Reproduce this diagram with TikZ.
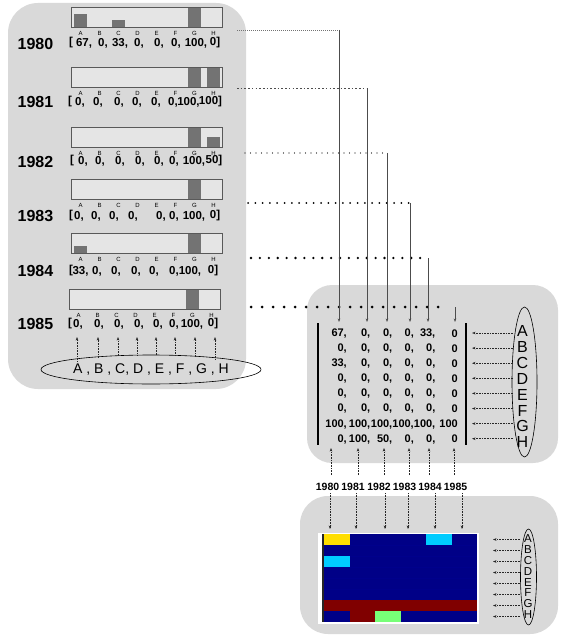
\documentclass[tikz,border=0pt]{standalone}
\usepackage{fontspec}
\setmainfont{Liberation Sans}
\usetikzlibrary{shapes.geometric,arrows.meta}
\definecolor{panel}{gray}{0.85}
\definecolor{boxfill}{gray}{0.9}
\definecolor{barcol}{gray}{0.45}
\definecolor{jdblue}{rgb}{0,0,0.53}
\definecolor{jyellow}{rgb}{1,0.87,0}
\definecolor{jcyan}{rgb}{0,0.8,1}
\definecolor{jgreen}{rgb}{0.47,1,0.47}
\definecolor{jred}{rgb}{0.5,0,0}
\tikzset{
  panelbox/.style={fill=panel, draw=none},
  chartbox/.style={fill=boxfill, draw=none, inner sep=0pt, minimum width=151pt, minimum height=20pt, anchor=north west},
  chartframe/.style={draw=black!65, line width=0.8pt},
  letlab/.style={font=\fontsize{6}{6}\selectfont, inner sep=0pt},
  val/.style={font=\bfseries\fontsize{11.5}{12}\selectfont, inner sep=0pt},
  mval/.style={font=\bfseries\fontsize{11}{12}\selectfont, inner sep=0pt, anchor=east},
  yearlab/.style={font=\bfseries\fontsize{16}{18}\selectfont, inner sep=0pt},
  smallyear/.style={font=\bfseries\fontsize{10.5}{12}\selectfont, inner sep=0pt},
  tipS/.style={-{Stealth[length=3.5pt,width=2.6pt]}},
  dotarrow/.style={tipS, draw=black!85, line width=0.6pt, dash pattern=on 0.7pt off 0.9pt},
  vl/.style={tipS, draw=black!70, line width=0.8pt},
  hla/.style={draw=black!55, line width=0.6pt, dash pattern=on 0.6pt off 1.4pt},
  hlb/.style={draw=black!70, line width=1pt, dash pattern=on 1.6pt off 2.1pt},
  hlc/.style={draw=black, line width=1.4pt, line cap=round, dash pattern=on 0pt off 5.5pt},
  hld/.style={draw=black, line width=2pt, line cap=round, dash pattern=on 0pt off 7.3pt},
  hle/.style={draw=black, line width=2.6pt, line cap=round, dash pattern=on 0pt off 8.9pt},
  hlf/.style={draw=black, line width=3pt, line cap=round, dash pattern=on 0pt off 11pt},
  ellA/.style={draw, ellipse, line width=0.6pt, inner sep=0pt},
  rowline/.style={draw=blue!55!black, line width=0.4pt},
}
\begin{document}
\begin{tikzpicture}[x=1pt,y=-1pt]
\useasboundingbox (0,0) rectangle (561,636);
% panels
\fill[panelbox, rounded corners=30pt] (8,3) rectangle (246,389);
\fill[panelbox, rounded corners=25pt] (307,285) rectangle (558,463);
\fill[panelbox, rounded corners=28pt] (300,496) rectangle (558,634);

% bar charts
\foreach \yt/\s/\vals [count=\r] in {7/0/{67,0,33,0,0,0,100,0}, 67/0/{0,0,0,0,0,0,100,100}, 127/0/{0,0,0,0,0,0,100,50}, 179/0/{0,0,0,0,0,0,100,0}, 233/0/{33,0,0,0,0,0,100,0}, 289/-2/{0,0,0,0,0,0,100,0}} {
  \node[chartbox] (box\r) at ({71+\s},\yt) {};
  \foreach \v [count=\i from 0] in \vals {
    \fill[barcol] ({74+19*\i+\s},{\yt+20-0.2*\v}) rectangle ({87+19*\i+\s},{\yt+20});
  }
  \draw[chartframe] (box\r.north west) rectangle (box\r.south east);
  \foreach \L [count=\i from 0] in {A,B,C,D,E,F,G,H} {
    \node[letlab] (lt\r\L) at ({80.5+19*\i+\s},{\yt+26}) {\L};
  }
}

% year labels
\node[yearlab] (yr1980) at (35.5,44) {1980};
\node[yearlab] (yr1981) at (35.5,102) {1981};
\node[yearlab] (yr1982) at (35.5,162) {1982};
\node[yearlab] (yr1983) at (35.5,216) {1983};
\node[yearlab] (yr1984) at (35.5,271) {1984};
\node[yearlab] (yr1985) at (35.5,324) {1985};

% value rows
\foreach \x/\t [count=\j] in {71/{[}, 84/{67,}, 103/{0,}, 120/{33,}, 139/{0,}, 159/{0,}, 176/{0,}, 196/{100,}, 215/{0]}}
  \node[val] (va\j) at (\x,43) {\t};
\foreach \x/\t [count=\j] in {70/{[}, 80/{0,}, 98/{0,}, 119/{0,}, 137/{0,}, 156/{0,}, 173/{0,}, 188.5/{100,}, 210.5/{100]}}
  \node[val] (vb\j) at (\x,102) {\t};
\foreach \x/\t [count=\j] in {72/{[}, 83/{0,}, 100/{0,}, 120/{0,}, 140/{0,}, 159/{0,}, 174/{0,}, 194/{100,}, 214/{50]}}
  \node[val] (vc\j) at (\x,161) {\t};
\foreach \x/\t [count=\j] in {71/{[}, 79/{0,}, 96/{0,}, 114/{0,}, 133/{0,}, 161/{0,}, 174/{0,}, 194/{100,}, 215/{0]}}
  \node[val] (vd\j) at (\x,216) {\t};
\foreach \x/\t [count=\j] in {71/{[}, 80.5/{33,}, 97/{0,}, 116/{0,}, 136/{0,}, 154/{0,}, 174/{0,}, 190/{100,}, 213/{0]}}
  \node[val] (ve\j) at (\x,271) {\t};
\foreach \x/\t [count=\j] in {70/{[}, 78/{0,}, 99/{0,}, 119/{0,}, 139/{0,}, 158/{0,}, 174/{0,}, 192/{100,}, 213/{0]}}
  \node[val] (vf\j) at (\x,324) {\t};

% left ellipse and arrows
\node[ellA, minimum width=178pt, minimum height=29pt, font=\fontsize{14}{16}\selectfont] (ell) at (151,369.5) {A , B , C, D , E , F , G , H};
\foreach \x/\ys/\L in {77/361.4/A, 98/357.9/B, 118/356.0/C, 137/355.2/D, 156/355.0/E, 175/355.5/F, 195/356.9/G, 215/359.4/H} {
  \coordinate (es\L) at (\x,\ys);
  \coordinate (ee\L) at (\x,337);
  \draw[dotarrow] (es\L) -- (ee\L);
}

% connectors from left panel to matrix
\coordinate (s1) at (237,30);  \coordinate (k1) at (339,30);  \coordinate (t1) at (339,322);
\coordinate (s2) at (237,89);  \coordinate (k2) at (367,89);  \coordinate (t2) at (367,322);
\coordinate (s3) at (245,153); \coordinate (k3) at (387,153); \coordinate (t3) at (387,322);
\coordinate (s4) at (248,203); \coordinate (k4) at (410,203); \coordinate (t4) at (410,322);
\coordinate (s5) at (251,258); \coordinate (k5) at (428,258); \coordinate (t5) at (428,322);
\coordinate (s6) at (251,307); \coordinate (k6) at (455,307); \coordinate (t6) at (455,322);
\coordinate (k6e) at (449,307);
\draw[hla] (s1) -- (k1);
\draw[hlb] (s2) -- (k2);
\draw[hlc] (s3) -- (k3);
\draw[hld] (s4) -- (k4);
\draw[hle] (s5) -- (k5);
\draw[hlf] (s6) -- (k6e);
\foreach \k in {1,...,6} \draw[vl] (k\k) -- (t\k);

% matrix
\draw[line width=2pt] (318,323) -- (318,445);
\draw[line width=2pt] (466,323) -- (466,445);
\foreach \row [count=\r from 0] in {{67,0,0,0,33,0},{0,0,0,0,0,0},{33,0,0,0,0,0},{0,0,0,0,0,0},{0,0,0,0,0,0},{0,0,0,0,0,0},{100,100,100,100,100,100},{0,100,50,0,0,0}} {
  \foreach \v [count=\c] in \row {
    \pgfmathsetmacro{\xe}{{347,370.5,392.5,414,435.5,458}[\c-1]}
    \node[mval] (m\r-\c) at (\xe,{333.5+15.1*\r}) {\ifnum\c<6 \v,\else\v\fi};
  }
}

% middle ellipse
\node[ellA, minimum width=25pt, minimum height=150pt] (ellM) at (524.5,382) {};
\foreach \L [count=\i from 0] in {A,B,C,D,E,F,G,H} {
  \node[font=\fontsize{16}{17}\selectfont, inner sep=0pt] (mL\L) at (522.5,{331+15.9*\i}) {\L};
  \coordinate (ms\L) at (513,{333+15.1*\i});
  \coordinate (me\L) at (472,{333+15.1*\i});
  \draw[dotarrow] (ms\L) -- (me\L);
}

% year labels below matrix
\foreach \y/\x/\ua/\da [count=\i] in {1980/327.5/331/330, 1981/353/358/356, 1982/379/384/385, 1983/404.5/409/408, 1984/430/429/435, 1985/455.5/454/462} {
  \node[smallyear] (sy\y) at (\x,487) {\y};
  \coordinate (ub\i) at (\ua,475);
  \coordinate (ut\i) at (\ua,448);
  \draw[dotarrow] (ub\i) -- (ut\i);
  \coordinate (db\i) at (\da,493);
  \coordinate (dt\i) at (\da,529);
  \draw[dotarrow] (db\i) -- (dt\i);
}

% heatmap
\fill[white] (318,532.5) rectangle (478.5,624);
\node[inner sep=0pt, minimum width=153pt, minimum height=88pt, anchor=north west, fill=jdblue] (hm) at (324,534) {};
\foreach \k in {1,...,7} \draw[rowline] (324,{534+11*\k}) -- (477,{534+11*\k});
\fill[jyellow] (324,534) rectangle (349.5,545);
\fill[jcyan] (426,534) rectangle (451.5,545);
\fill[jcyan] (324,556) rectangle (349.5,567);
\fill[jred] (324,600) rectangle (477,611);
\fill[jred] (349.5,611) rectangle (375,622);
\fill[jgreen] (375,611) rectangle (400.5,622);
\fill[black!85] (321.5,534) rectangle (324,622);

% bottom ellipse
\node[ellA, minimum width=16pt, minimum height=96pt] (ellB) at (528.5,577) {};
\foreach \L [count=\i from 0] in {A,B,C,D,E,F,G,H} {
  \node[font=\fontsize{11.5}{12}\selectfont, inner sep=0pt] (bL\L) at (528,{538.5+10.9*\i}) {\L};
  \coordinate (bs\L) at (520,{539.5+11*\i});
  \coordinate (be\L) at (493,{539.5+11*\i});
  \draw[dotarrow] (bs\L) -- (be\L);
}
\end{tikzpicture}
\end{document}
